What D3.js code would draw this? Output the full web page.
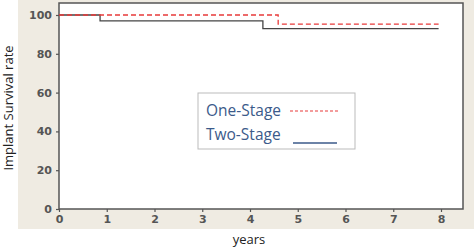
<!DOCTYPE html>
<head>
<style type="text/css">
    body { margin: 0; background: #fff; font-family: "DejaVu Sans", sans-serif; }
</style>
</head>
<script src="https://d3js.org/d3.v7.min.js"></script>
<body>
<svg width="474" height="249"></svg>
<script>
    var oneYears = [0, 4.59, 7.95],
        oneRate  = [100, 95.3, 95.3],
        twoYears = [0, 0.86, 4.27, 7.95],
        twoRate  = [100, 97, 93, 93],
        xTicks = [0, 1, 2, 3, 4, 5, 6, 7, 8],
        yTicks = [0, 20, 40, 60, 80, 100],
        legendLabels = ["One-Stage", "Two-Stage"];

    var svg = d3.select("svg");

    // beige panel behind plot
    svg.append("rect").attr("x", 18).attr("y", 0).attr("width", 456).attr("height", 229)
        .attr("fill", "#efebe2");

    var x = d3.scaleLinear().domain([0, 8]).range([59, 441]),
        y = d3.scaleLinear().domain([0, 100]).range([209, 15]);

    svg.append("rect").attr("x", 59).attr("y", 3).attr("width", 463 - 59).attr("height", 209 - 3)
        .attr("fill", "#fff").attr("stroke", "#555").attr("stroke-width", 1.5);

    var xAxis = svg.append("g").attr("transform", "translate(0,209)")
        .call(d3.axisBottom(x).tickValues(xTicks).tickSize(3).tickPadding(3));
    var yAxis = svg.append("g").attr("transform", "translate(59,0)")
        .call(d3.axisLeft(y).tickValues(yTicks).tickSize(3).tickPadding(4));
    [xAxis, yAxis].forEach(function(a) {
        a.select(".domain").remove();
        a.selectAll("line").attr("stroke", "#555").attr("stroke-width", 1.2);
        a.selectAll("text").attr("fill", "#555").style("font-size", "11px").style("font-weight", "bold")
            .style("font-family", "DejaVu Sans, sans-serif");
    });

    var step = d3.line().curve(d3.curveStepAfter)
        .x(function(d) { return x(d[0]); }).y(function(d) { return y(d[1]); });

    svg.append("path").datum(d3.zip(twoYears, twoRate)).attr("d", step)
        .attr("fill", "none").attr("stroke", "#444").attr("stroke-width", 1.3);
    svg.append("path").datum(d3.zip(oneYears, oneRate)).attr("d", step)
        .attr("fill", "none").attr("stroke", "#e83a3a").attr("stroke-width", 1.3)
        .attr("stroke-dasharray", "5,3");

    // legend
    var lg = svg.append("g");
    lg.append("rect").attr("x", 198).attr("y", 93).attr("width", 157).attr("height", 56)
        .attr("fill", "#fff").attr("stroke", "#bbb");
    lg.selectAll("text").data(legendLabels).enter().append("text")
        .attr("x", 206).attr("y", function(d, i) { return 116 + i * 24; })
        .attr("fill", "#3b5a8a").style("font-family", "Open Sans, sans-serif").style("font-size", "15.5px")
        .text(function(d) { return d; });
    lg.append("line").attr("x1", 290).attr("x2", 338).attr("y1", 111).attr("y2", 111)
        .attr("stroke", "#e83a3a").attr("stroke-width", 1.2).attr("stroke-dasharray", "3,2");
    lg.append("line").attr("x1", 293).attr("x2", 337).attr("y1", 143).attr("y2", 143)
        .attr("stroke", "#3b5a8a").attr("stroke-width", 1.5);

    svg.append("text").attr("x", 249).attr("y", 244).attr("text-anchor", "middle")
        .style("font-family", "Open Sans, sans-serif").style("font-size", "13px").attr("fill", "#222")
        .text("years");
    svg.append("text").attr("transform", "translate(13,108) rotate(-90)").attr("text-anchor", "middle")
        .style("font-family", "Open Sans, sans-serif").style("font-size", "13px").attr("fill", "#222")
        .text("Implant Survival rate");
</script>
</body>
